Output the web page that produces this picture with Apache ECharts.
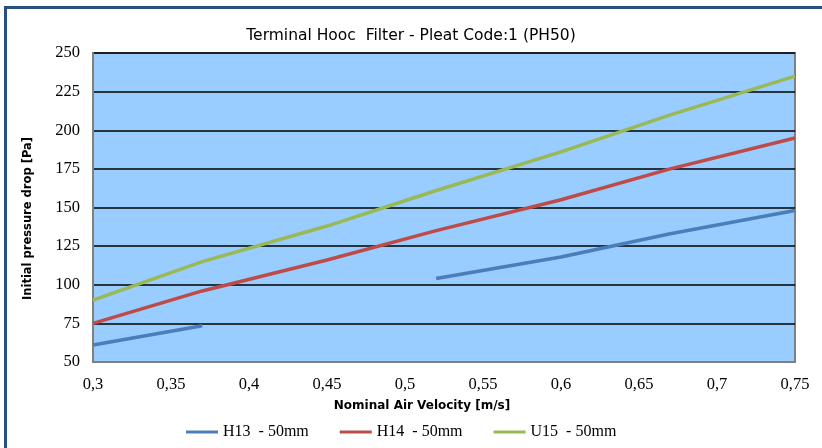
<!DOCTYPE html>
<html>
<head>
<meta charset="utf-8">
<script src="https://cdn.jsdelivr.net/npm/echarts@6/dist/echarts.min.js"></script>
<style>html,body{margin:0;padding:0;background:#fff}#c{width:822px;height:448px}</style>
</head>
<body>
<div id="c"></div>
<script>
const velocities = [0.3, 0.37, 0.45, 0.52, 0.6, 0.67, 0.75];
const h13 = [61, 73.5, null, 104, 118, 133, 148];
const h14 = [75, 96, 116, 135, 155, 175, 195];
const u15 = [90, 115, 138, 161, 186, 210, 235];
const seriesNames = ['H13  - 50mm', 'H14  - 50mm', 'U15  - 50mm'];
const yTicks = [50, 75, 100, 125, 150, 175, 200, 225, 250];
const xTicks = [0.3, 0.35, 0.4, 0.45, 0.5, 0.55, 0.6, 0.65, 0.7, 0.75];

const pairs = arr => velocities.map((v, i) => [v, arr[i]]);
const colors = ['#4A7EBB', '#BE4B48', '#98B954'];
const serif = "'Liberation Serif', 'DejaVu Serif', serif";
const sans = "'DejaVu Sans', 'Liberation Sans', sans-serif";

const chart = echarts.init(document.getElementById('c'), null, {renderer: 'canvas'});
chart.setOption({
  animation: false,
  backgroundColor: '#ffffff',
  title: {
    text: 'Terminal Hooc  Filter - Pleat Code:1 (PH50)',
    left: 'center', top: 23,
    textStyle: {fontFamily: sans, fontSize: 15.5, fontWeight: 'normal', color: '#000'}
  },
  graphic: [{
    type: 'rect', silent: true, z: 100,
    shape: {x: 5.5, y: 7.5, width: 840, height: 460},
    style: {fill: null, stroke: '#2B4F80', lineWidth: 3}
  }],
  grid: {
    left: 93, right: 27, top: 53, bottom: 86,
    show: true, backgroundColor: '#99CCFF', borderColor: '#808080', borderWidth: 2
  },
  legend: {
    left: 181, top: 419, itemGap: 31, itemWidth: 32, itemHeight: 3, icon: 'rect',
    data: seriesNames,
    textStyle: {fontFamily: serif, fontSize: 16, color: '#000'}
  },
  xAxis: {
    type: 'value', min: 0.3, max: 0.75, interval: 0.05,
    name: 'Nominal Air Velocity [m/s]', nameLocation: 'middle', nameGap: 38,
    nameTextStyle: {fontFamily: sans, fontSize: 12, fontWeight: 'bold', color: '#000', padding: [0, 44, 0, 0]},
    axisLine: {lineStyle: {color: '#808080', width: 2}},
    axisTick: {show: false},
    splitLine: {show: false},
    axisLabel: {
      fontFamily: serif, fontSize: 16.5, color: '#000', margin: 14,
      formatter: v => String(Math.round(v * 100) / 100).replace('.', ',')
    }
  },
  yAxis: {
    type: 'value', min: 50, max: 250, interval: 25,
    name: 'Initial pressure drop [Pa]', nameLocation: 'middle', nameGap: 59,
    nameTextStyle: {fontFamily: sans, fontSize: 11.5, fontWeight: 'bold', color: '#000', padding: [0, 22, 0, 0]},
    axisLine: {show: true, lineStyle: {color: '#808080', width: 2}},
    axisTick: {show: false},
    splitLine: {show: true, lineStyle: {color: '#000', width: 1.5}},
    axisLabel: {fontFamily: serif, fontSize: 16.5, color: '#000', margin: 13}
  },
  series: [
    {name: seriesNames[0], type: 'line', data: pairs(h13), showSymbol: false, symbol: 'none', connectNulls: false,
     lineStyle: {color: colors[0], width: 3.5}, itemStyle: {color: colors[0]}},
    {name: seriesNames[1], type: 'line', data: pairs(h14), showSymbol: false, symbol: 'none',
     lineStyle: {color: colors[1], width: 3.5}, itemStyle: {color: colors[1]}},
    {name: seriesNames[2], type: 'line', data: pairs(u15), showSymbol: false, symbol: 'none',
     lineStyle: {color: colors[2], width: 3.5}, itemStyle: {color: colors[2]}}
  ]
});
</script>
</body>
</html>
